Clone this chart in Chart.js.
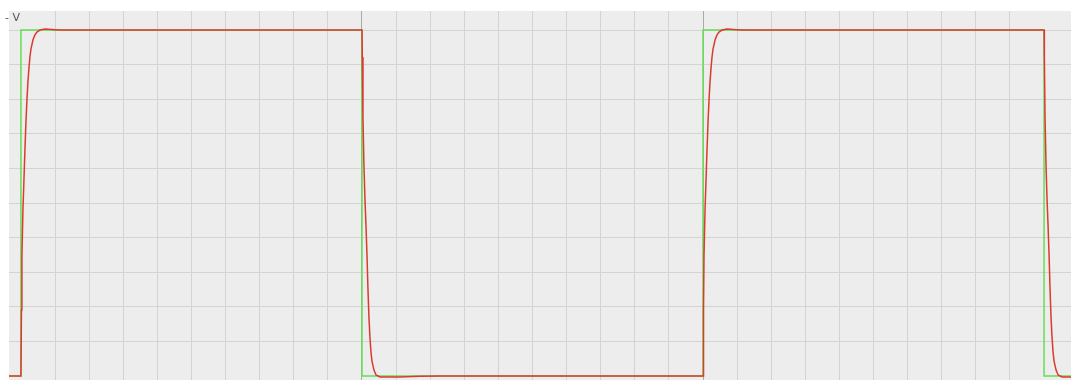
<!DOCTYPE html>
<html>
<head>
<meta charset="utf-8">
<script src="https://cdn.jsdelivr.net/npm/chart.js@4/dist/chart.umd.min.js"></script>
<style>
  html, body { margin: 0; padding: 0; background: #ffffff; }
  #wrap { width: 1071px; height: 380px; position: relative; }
</style>
</head>
<body>
<div id="wrap"><canvas id="c" width="1071" height="380"></canvas></div>
<script>
// ---- data (time in grid divisions, value in grid divisions) ----
const xMin = -0.35, xMax = 30.79;
const yMin = -0.116, yMax = 10.55;
const unitLabel = "- V";

// ideal square wave (green)
const greenT = [-0.35, 0, 0, 10, 10, 20, 20, 30, 30, 30.79];
const greenV = [0, 0, 10, 10, 0, 0, 10, 10, 0, 0];

// measured response (red)
const redT = [
  -0.35, 0,
  0.015, 0.029, 0.059, 0.088, 0.117, 0.147, 0.176, 0.205, 0.235, 0.264, 0.293, 0.352, 0.411, 0.469, 0.557, 0.704, 0.997, 1.14,
  10.0, 10.009, 10.029, 10.059, 10.088, 10.117, 10.147, 10.176, 10.205, 10.235, 10.264, 10.293, 10.352, 10.411, 10.528, 11.11, 11.70, 12.28,
  20.0, 20.015, 20.029, 20.059, 20.088, 20.117, 20.147, 20.176, 20.205, 20.235, 20.264, 20.293, 20.352, 20.411, 20.469, 20.557, 20.704, 20.997, 21.14,
  30.0, 30.009, 30.029, 30.059, 30.088, 30.117, 30.147, 30.176, 30.205, 30.235, 30.264, 30.293, 30.352, 30.411, 30.528, 30.79
];
const redV = [
  0, 0,
  1.91, 3.47, 4.80, 5.66, 6.53, 7.34, 7.98, 8.50, 8.90, 9.22, 9.45, 9.71, 9.86, 9.94, 10.0, 10.03, 10.01, 10.0,
  10.0, 9.22, 7.46, 6.05, 5.09, 4.36, 3.50, 2.49, 1.68, 1.10, 0.69, 0.43, 0.17, 0.03, -0.03, -0.03, -0.01, 0,
  0, 1.91, 3.47, 4.80, 5.66, 6.53, 7.34, 7.98, 8.50, 8.90, 9.22, 9.45, 9.71, 9.86, 9.94, 10.0, 10.03, 10.01, 10.0,
  10.0, 9.22, 7.46, 6.05, 5.09, 4.36, 3.50, 2.49, 1.68, 1.10, 0.69, 0.43, 0.17, 0.03, -0.03, -0.03
];

const toPts = (ts, vs) => ts.map((t, i) => ({ x: t, y: vs[i] }));

const bgPlugin = {
  id: 'bg',
  beforeDraw(chart) {
    const { ctx, chartArea: a } = chart;
    ctx.save();
    ctx.fillStyle = '#ededed';
    ctx.fillRect(a.left, a.top, a.right - a.left, a.bottom - a.top);
    ctx.restore();
  },
  afterDraw(chart) {
    const { ctx } = chart;
    ctx.save();
    ctx.fillStyle = '#555555';
    ctx.font = '11px "DejaVu Sans", sans-serif';
    ctx.textAlign = 'right';
    ctx.textBaseline = 'alphabetic';
    ctx.fillText(unitLabel, 20, 21);
    ctx.restore();
  }
};

const onlyIntegers = (scale) => {
  scale.ticks = scale.ticks.filter(t => Math.abs(t.value - Math.round(t.value)) < 1e-6);
};

new Chart(document.getElementById('c'), {
  type: 'line',
  data: {
    datasets: [
      { data: toPts(redT, redV), borderColor: '#dc3a2e', borderWidth: 1.5, pointRadius: 0, tension: 0, order: 1 },
      { data: toPts(greenT, greenV), borderColor: '#66dd55', borderWidth: 1.5, pointRadius: 0, tension: 0, order: 2 }
    ]
  },
  options: {
    responsive: false,
    animation: false,
    events: [],
    layout: { autoPadding: false, padding: { left: 9, top: 11, right: 0, bottom: 0 } },
    plugins: { legend: { display: false }, tooltip: { enabled: false } },
    scales: {
      x: {
        type: 'linear', min: xMin, max: xMax,
        ticks: { display: false, stepSize: 1 },
        afterBuildTicks: onlyIntegers,
        grid: {
          drawTicks: false, lineWidth: 1,
          color: (c) => (c.tick && Math.round(c.tick.value) % 10 === 0) ? '#a9a9a9' : '#d3d3d3'
        },
        border: { display: false }
      },
      y: {
        type: 'linear', min: yMin, max: yMax,
        ticks: { display: false, stepSize: 1 },
        afterBuildTicks: onlyIntegers,
        grid: {
          drawTicks: false, lineWidth: 1,
          color: (c) => (c.tick && Math.round(c.tick.value) === 0) ? '#a9a9a9' : '#d3d3d3'
        },
        border: { display: false }
      }
    }
  },
  plugins: [bgPlugin]
});
</script>
</body>
</html>
